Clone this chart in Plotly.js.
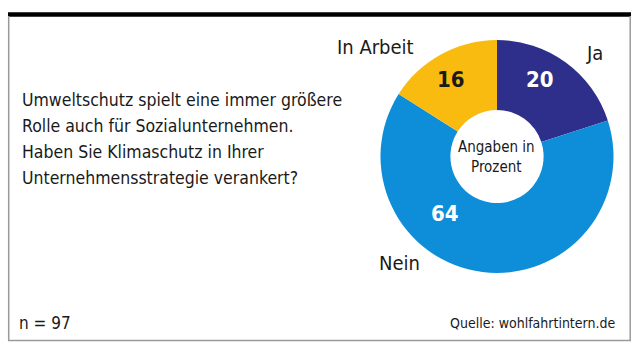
<!DOCTYPE html>
<html>
<head>
<meta charset="utf-8">
<script src="https://cdn.plot.ly/plotly-3.0.1.min.js"></script>
<style>html,body{margin:0;padding:0;background:#fff;}#chart{width:637px;height:359px;}</style>
</head>
<body>
<div id="chart"></div>
<script>
// Data
const labels = ['Ja', 'Nein', 'In Arbeit'];
const values = [20, 64, 16];
const colors = ['#2e2f8a', '#0e8ed8', '#f9bb10'];
const question = ['Umweltschutz spielt eine immer größere', 'Rolle auch für Sozialunternehmen.', 'Haben Sie Klimaschutz in Ihrer', 'Unternehmensstrategie verankert?'];
const centerText = ['Angaben in', 'Prozent'];
const sampleNote = 'n = 97';
const sourceNote = 'Quelle: wohlfahrtintern.de';

const W = 637, H = 359;
const px = x => x / W;
const py = y => 1 - y / H;
const FONT = 'DejaVu Sans Condensed, sans-serif';

// layout positions (pixels)
const labelPos = [{x: 594, y: 53}, {x: 399, y: 263}, {x: 375, y: 47}];
const valuePos = [{x: 540, y: 80}, {x: 445, y: 213}, {x: 451, y: 80}];
const valueColors = ['#ffffff', '#ffffff', '#1a1a1a'];
const questionY = [100, 126, 152, 178];

const annotations = [];
labels.forEach((l, i) => {
  annotations.push({text: l, x: px(labelPos[i].x), y: py(labelPos[i].y), xref: 'paper', yref: 'paper',
    xanchor: 'center', yanchor: 'middle', showarrow: false, font: {family: FONT, size: 20, color: '#1a1a1a'}});
  annotations.push({text: '<b>' + String(values[i]) + '</b>', x: px(valuePos[i].x), y: py(valuePos[i].y), xref: 'paper', yref: 'paper',
    xanchor: 'center', yanchor: 'middle', showarrow: false, font: {family: FONT, size: 22, color: valueColors[i]}});
});
question.forEach((q, i) => {
  annotations.push({text: q, x: px(20), y: py(questionY[i]), xref: 'paper', yref: 'paper',
    xanchor: 'left', yanchor: 'middle', align: 'left', showarrow: false, font: {family: FONT, size: 17.5, color: '#1a1a1a'}});
});
annotations.push({text: centerText.join('<br>'), x: px(496), y: py(157), xref: 'paper', yref: 'paper',
  xanchor: 'center', yanchor: 'middle', align: 'center', showarrow: false, font: {family: FONT, size: 15, color: '#1a1a1a'}});
annotations.push({text: sampleNote, x: px(17), y: py(323), xref: 'paper', yref: 'paper',
  xanchor: 'left', yanchor: 'middle', showarrow: false, font: {family: FONT, size: 17, color: '#1a1a1a'}});
annotations.push({text: sourceNote, x: px(617), y: py(323), xref: 'paper', yref: 'paper',
  xanchor: 'right', yanchor: 'middle', showarrow: false, font: {family: FONT, size: 14, color: '#1a1a1a'}});

const shapes = [
  {type: 'rect', xref: 'paper', yref: 'paper', x0: px(8), x1: px(631), y0: py(16.7), y1: py(12.2), fillcolor: '#000', line: {width: 0}},
  {type: 'line', xref: 'paper', yref: 'paper', x0: px(8.7), x1: px(8.7), y0: py(16), y1: py(340.8), line: {color: '#9a9a9a', width: 1.5}},
  {type: 'line', xref: 'paper', yref: 'paper', x0: px(630.2), x1: px(630.2), y0: py(16), y1: py(340.8), line: {color: '#9a9a9a', width: 1.5}},
  {type: 'line', xref: 'paper', yref: 'paper', x0: px(8), x1: px(631), y0: py(340.5), y1: py(340.5), line: {color: '#9a9a9a', width: 1.5}}
];

const trace = {
  type: 'pie', labels: labels, values: values, hole: 0.4, sort: false, direction: 'clockwise', rotation: 0,
  marker: {colors: colors, line: {width: 0}}, textinfo: 'none', hoverinfo: 'label+value',
  domain: {x: [px(379), px(615)], y: [py(273), py(40)]}, showlegend: false
};

Plotly.newPlot('chart', [trace], {
  width: W, height: H, margin: {l: 0, r: 0, t: 0, b: 0},
  paper_bgcolor: '#ffffff', plot_bgcolor: '#ffffff', showlegend: false,
  annotations: annotations, shapes: shapes
}, {displayModeBar: false, staticPlot: true});
</script>
</body>
</html>
